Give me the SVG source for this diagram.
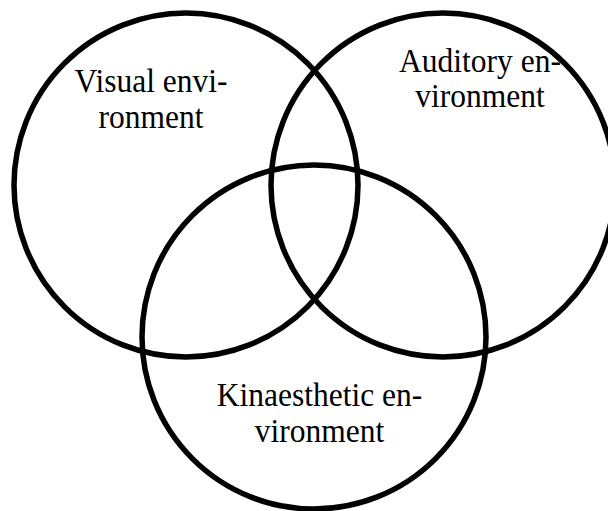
<svg xmlns="http://www.w3.org/2000/svg" width="608" height="511" viewBox="0 0 608 511">
  <style>
    .ring { fill: none; stroke: #000; stroke-width: 5.5; }
    .label { font-family: "Liberation Serif", "Times New Roman", serif; font-size: 31.5px; fill: #000; text-anchor: middle; }
  </style>
  <rect width="608" height="511" fill="#fff"/>
  <g id="visual">
    <circle class="ring" cx="186" cy="185" r="172"/>
    <text class="label" transform="translate(151 92) scale(1 1.1)">Visual envi-</text>
    <text class="label" transform="translate(151 128) scale(1 1.1)">ronment</text>
  </g>
  <g id="auditory">
    <circle class="ring" cx="443" cy="185" r="172"/>
    <text class="label" transform="translate(480 71.5) scale(1 1.1)">Auditory en-</text>
    <text class="label" transform="translate(480 107) scale(1 1.1)">vironment</text>
  </g>
  <g id="kinaesthetic">
    <circle class="ring" cx="314" cy="337" r="172"/>
    <text class="label" transform="translate(319.5 406) scale(1 1.1)">Kinaesthetic en-</text>
    <text class="label" transform="translate(319.5 442) scale(1 1.1)">vironment</text>
  </g>
  <g id="connectors"/>
</svg>
